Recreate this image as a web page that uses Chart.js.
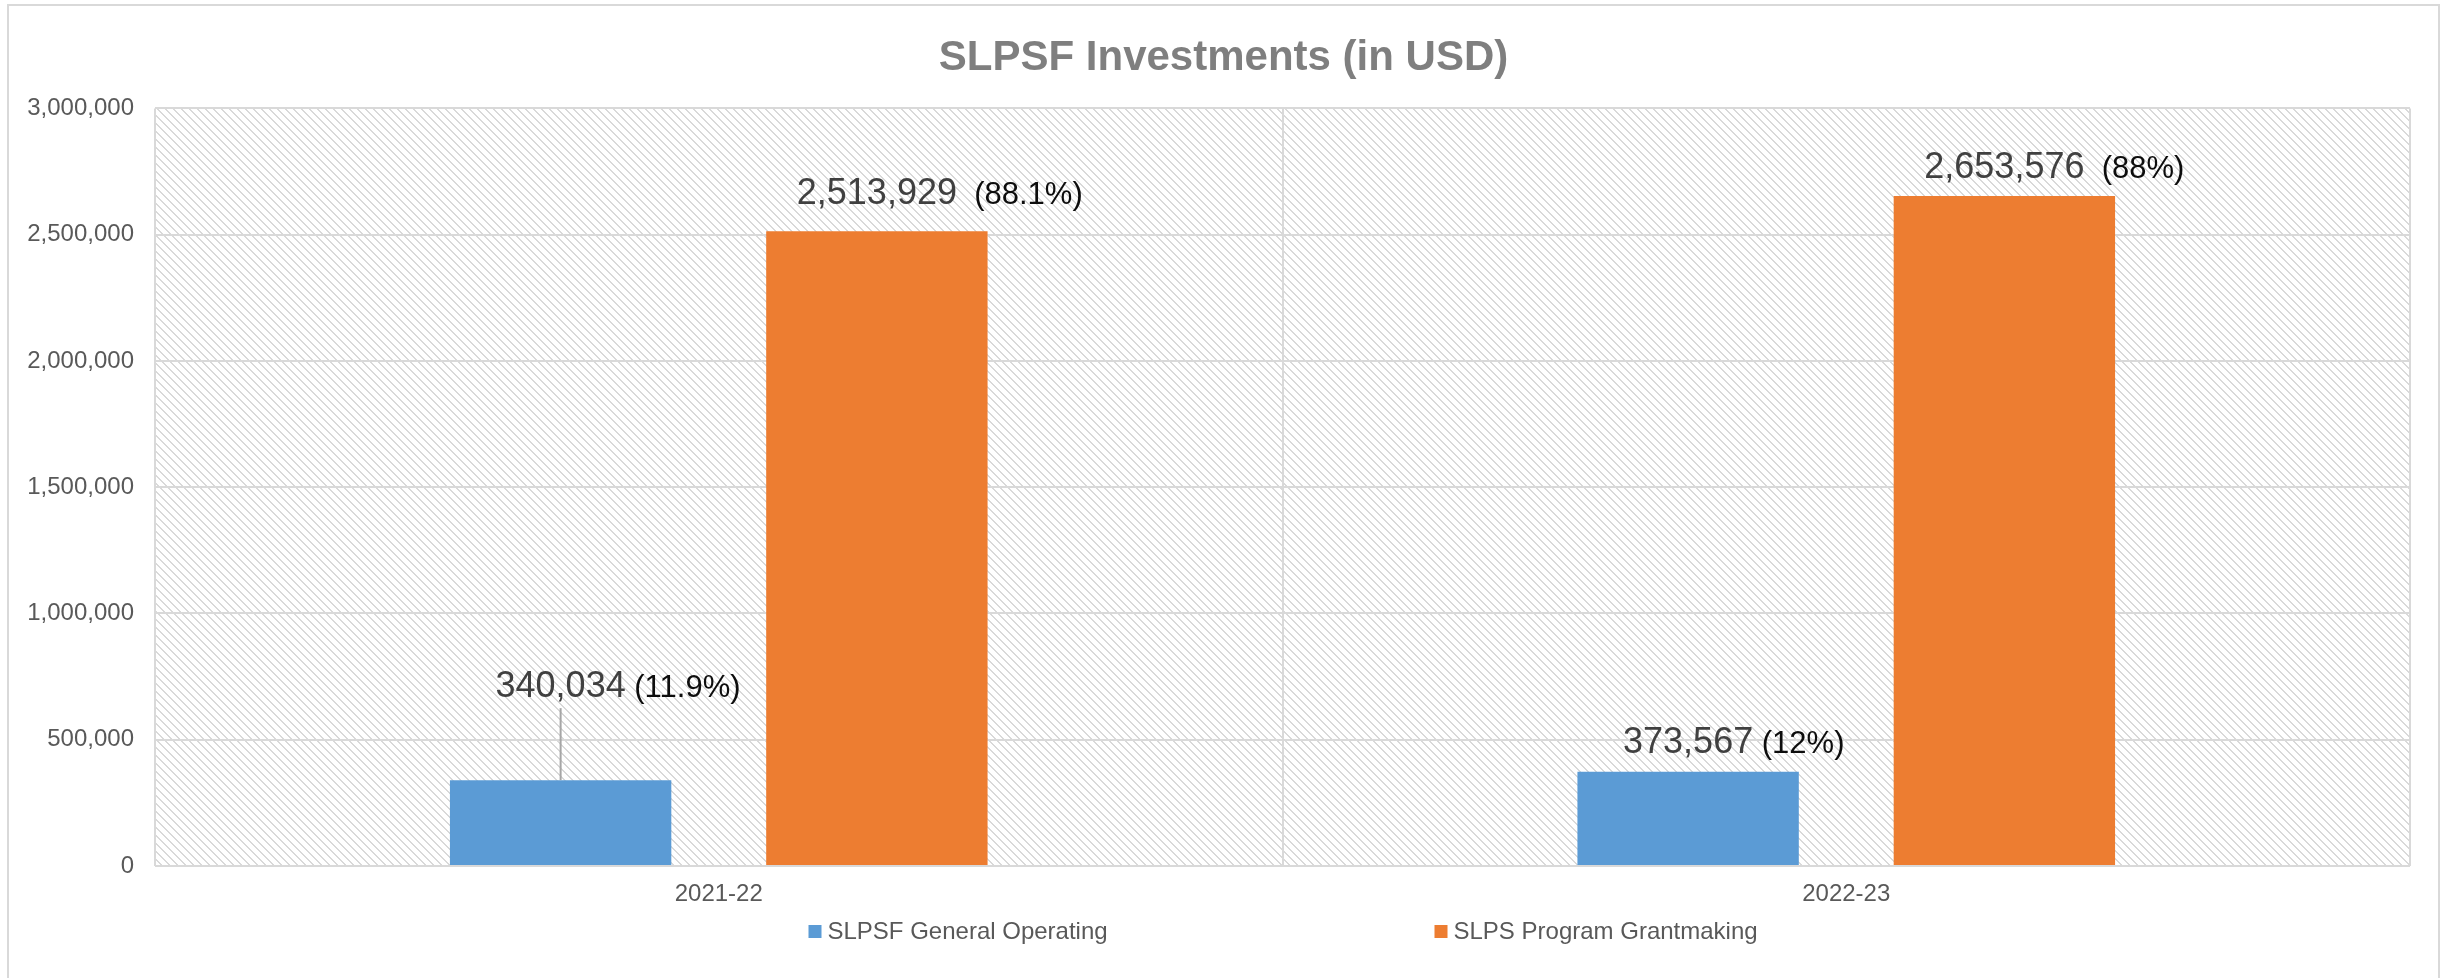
<!DOCTYPE html>
<html>
<head>
<meta charset="utf-8">
<title>SLPSF Investments</title>
<script src="https://cdn.jsdelivr.net/npm/chart.js@4.4.0/dist/chart.umd.min.js"></script>
<style>
    html, body { margin: 0; padding: 0; background: #fff; }
    canvas { display: block; }
</style>
</head>
<body>
<canvas id="myChart-invest" width="2447" height="978"></canvas>
<script>
var categories = ["2021-22", "2022-23"];
var seriesNames = ["SLPSF General Operating", "SLPS Program Grantmaking"];
var generalOperating = [340034, 373567];
var programGrantmaking = [2513929, 2653576];
var generalPct = [" (11.9%)", " (12%)"];
var grantPct = ["  (88.1%)", "  (88%)"];

var FONT = "'Liberation Sans', Arial, sans-serif";

//========== hatch pattern for the plot area
function makeHatch() {
    var c = document.createElement('canvas');
    c.width = 8;
    c.height = 8;
    var g = c.getContext('2d');
    g.fillStyle = '#ffffff';
    g.fillRect(0, 0, 8, 8);
    g.fillStyle = '#d9d9d9';
    for (var y = 0; y < 8; y++) {
        for (var x = 0; x < 8; x++) {
            var d = ((x - y) % 8 + 8) % 8;
            if (d < 2) g.fillRect(x, y, 1, 1);
        }
    }
    return c;
}

var backgroundPlugin = {
    id: 'bg',
    beforeDraw: function (chart) {
        var ctx = chart.ctx,
            area = chart.chartArea;
        ctx.save();
        ctx.fillStyle = '#ffffff';
        ctx.fillRect(0, 0, chart.width, chart.height);
        ctx.strokeStyle = '#d9d9d9';
        ctx.lineWidth = 2;
        ctx.strokeRect(8, 5, chart.width - 16, chart.height + 20);
        ctx.fillStyle = ctx.createPattern(makeHatch(), 'repeat');
        ctx.fillRect(area.left, area.top, area.right - area.left, area.bottom - area.top);
        ctx.restore();
    }
};

//========== value + percent labels above the bars
var labelPlugin = {
    id: 'valueLabels',
    afterDatasetsDraw: function (chart, args, opts) {
        var ctx = chart.ctx;
        var pcts = [generalPct, grantPct];
        ctx.save();
        ctx.textBaseline = 'alphabetic';
        chart.data.datasets.forEach(function (ds, di) {
            var meta = chart.getDatasetMeta(di);
            meta.data.forEach(function (bar, i) {
                var value = ds.data[i].toLocaleString('en-US');
                var lift = opts.lift[di][i];
                if (di === 0 && i === 0) {
                    // this label was dragged up in the original, so it has a leader line
                    ctx.strokeStyle = '#a6a6a6';
                    ctx.lineWidth = 2;
                    ctx.beginPath();
                    ctx.moveTo(bar.x, bar.y);
                    ctx.lineTo(bar.x, bar.y - lift + 11);
                    ctx.stroke();
                }
                var y = bar.y - lift;
                ctx.font = '36px ' + FONT;
                ctx.fillStyle = '#404040';
                var w = ctx.measureText(value).width;
                ctx.textAlign = 'left';
                ctx.fillText(value, bar.x - w / 2, y);
                ctx.font = '31px ' + FONT;
                ctx.fillStyle = '#0d0d0d';
                ctx.fillText(pcts[di][i], bar.x + w / 2, y);
            });
        });
        ctx.restore();
    }
};

//========== legend, Excel style (equal width entries)
var legendPlugin = {
    id: 'xlLegend',
    afterDraw: function (chart) {
        var ctx = chart.ctx,
            area = chart.chartArea;
        var mid = (area.left + area.right) / 2;
        var x0 = mid - 474,
            step = 626,
            y = 931;
        ctx.save();
        ctx.font = '24px ' + FONT;
        ctx.textBaseline = 'middle';
        ctx.textAlign = 'left';
        chart.data.datasets.forEach(function (ds, di) {
            var x = x0 + di * step;
            ctx.fillStyle = ds.backgroundColor;
            ctx.fillRect(x, y - 6, 13, 13);
            ctx.fillStyle = '#595959';
            ctx.fillText(ds.label, x + 19, y + 1);
        });
        ctx.restore();
    }
};

var chartInvest = document.getElementById('myChart-invest');
new Chart(chartInvest, {
    type: 'bar',
    plugins: [backgroundPlugin, labelPlugin, legendPlugin],
    data: {
        labels: categories,
        datasets: [
            {
                label: seriesNames[0],
                data: generalOperating,
                backgroundColor: '#5b9bd5',
                categoryPercentage: 0.561,
                barPercentage: 0.70
            },
            {
                label: seriesNames[1],
                data: programGrantmaking,
                backgroundColor: '#ed7d31',
                categoryPercentage: 0.561,
                barPercentage: 0.70
            }
        ]
    },
    options: {
        responsive: false,
        animation: false,
        layout: {
            padding: { left: 0, right: 0, top: 0, bottom: 0 }
        },
        plugins: {
            legend: { display: false },
            tooltip: { enabled: false },
            valueLabels: {
                lift: [[83, 19], [27, 18]]
            },
            title: {
                display: true,
                text: 'SLPSF Investments (in USD)',
                color: '#7f7f7f',
                font: { family: FONT, size: 42, weight: 'bold' },
                padding: { top: 33, bottom: 25 }
            }
        },
        scales: {
            x: {
                grid: { offset: true, color: '#d9d9d9', lineWidth: 2, drawTicks: false },
                border: { display: false },
                ticks: {
                    color: '#595959',
                    font: { family: FONT, size: 24 },
                    padding: 14
                },
                afterFit: function (scale) { scale.height = 112; }
            },
            y: {
                min: 0,
                max: 3000000,
                grid: { color: '#d9d9d9', lineWidth: 2, drawTicks: false },
                border: { display: false },
                ticks: {
                    stepSize: 500000,
                    color: '#595959',
                    font: { family: FONT, size: 24 },
                    padding: 21,
                    callback: function (v) { return v.toLocaleString('en-US'); }
                },
                afterFit: function (scale) { scale.width = 155; }
            },
            // empty right-hand strip so the plot stops where the original does
            yRight: {
                position: 'right',
                grid: { display: false },
                border: { display: false },
                ticks: { display: false },
                afterFit: function (scale) { scale.width = 37; }
            }
        }
    }
});
</script>
</body>
</html>
